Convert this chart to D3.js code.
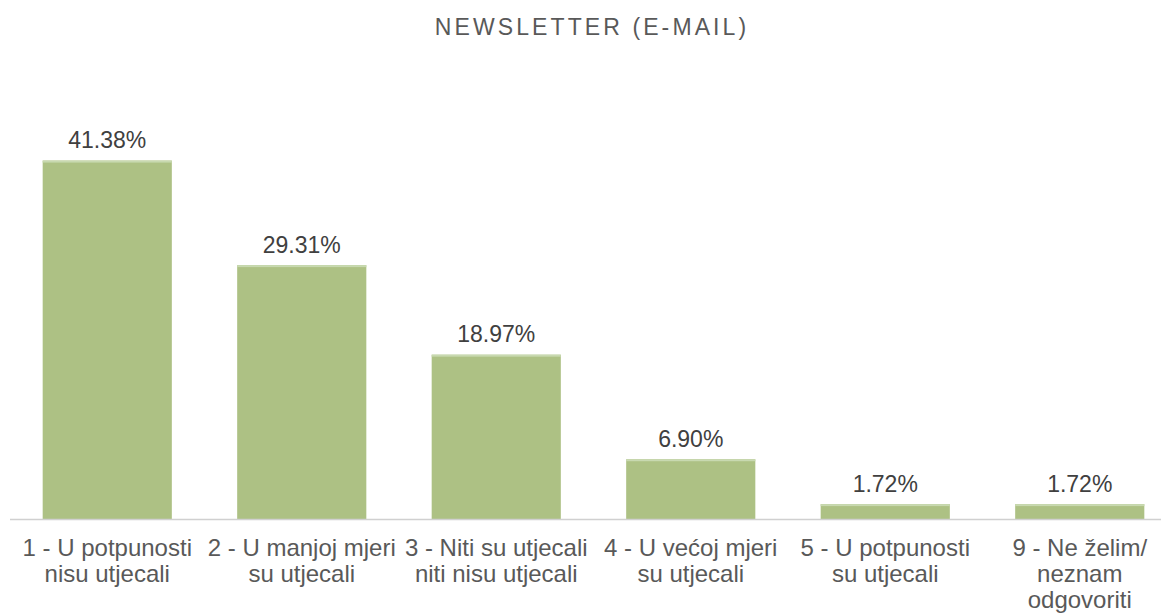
<html>
<head>
<meta charset="utf-8">
<title>Newsletter (e-mail)</title>
<style type="text/css">
body { margin: 0; background: #fff; }
svg { font-family: "Liberation Sans", Arial, Helvetica, sans-serif; }
.bar { fill: #adc184; }
.bar-top { fill: #c8d9b0; }
.value { fill: #404040; font-size: 23px; text-anchor: middle; }
.cat { fill: #595959; font-size: 24px; text-anchor: middle; }
.title { fill: #595959; font-size: 23px; letter-spacing: 3.1px; text-anchor: middle; }
</style>
</head>
<body>
<script src="https://d3js.org/d3.v7.min.js"></script>
<script>
// data
var categories = [
	["1 - U potpunosti", "nisu utjecali"],
	["2 - U manjoj mjeri", "su utjecali"],
	["3 - Niti su utjecali", "niti nisu utjecali"],
	["4 - U većoj mjeri", "su utjecali"],
	["5 - U potpunosti", "su utjecali"],
	["9 - Ne želim/", "neznam", "odgovoriti"]
];
var values = [41.38, 29.31, 18.97, 6.90, 1.72, 1.72];
var title = "NEWSLETTER (E-MAIL)";

var W = 1161, H = 614,
	baseY = 519; // axis line

var svg = d3.select("body").append("svg")
	.attr("width", W)
	.attr("height", H);

var xs = d3.scaleBand()
	.domain(d3.range(values.length))
	.range([10, 1177])
	.paddingInner(0.336)
	.paddingOuter(0.168);

var ys = d3.scaleLinear().domain([0, 45]).range([baseY, 129.2]);

svg.append("text")
	.attr("class", "title")
	.attr("x", 592)
	.attr("y", 35)
	.text(title);

// bars
svg.selectAll("rect.bar").data(values).enter().append("rect")
	.attr("class", "bar")
	.attr("x", function(d, i) { return xs(i); })
	.attr("y", function(d) { return ys(d); })
	.attr("width", xs.bandwidth())
	.attr("height", function(d) { return ys(0) - ys(d); });

svg.selectAll("rect.bar-top").data(values).enter().append("rect")
	.attr("class", "bar-top")
	.attr("x", function(d, i) { return xs(i); })
	.attr("y", function(d) { return ys(d); })
	.attr("width", xs.bandwidth())
	.attr("height", 2);

// axis line
svg.append("line")
	.attr("x1", 10).attr("x2", W)
	.attr("y1", baseY + 0.5).attr("y2", baseY + 0.5)
	.attr("stroke", "#d0d0d0")
	.attr("stroke-width", 1.5);

// value labels
svg.selectAll("text.value").data(values).enter().append("text")
	.attr("class", "value")
	.attr("x", function(d, i) { return xs(i) + xs.bandwidth() / 2; })
	.attr("y", function(d) { return ys(d) - 12.5; })
	.text(function(d) { return d.toFixed(2) + "%"; });

// category labels
var cat = svg.selectAll("text.cat").data(categories).enter().append("text")
	.attr("class", "cat")
	.attr("x", function(d, i) { return xs(i) + xs.bandwidth() / 2; })
	.attr("y", 556);

cat.selectAll("tspan").data(function(d) { return d; }).enter().append("tspan")
	.attr("x", function() { return d3.select(this.parentNode).attr("x"); })
	.attr("dy", function(d, j) { return j ? 26 : 0; })
	.text(function(d) { return d; });
</script>
</body>
</html>
